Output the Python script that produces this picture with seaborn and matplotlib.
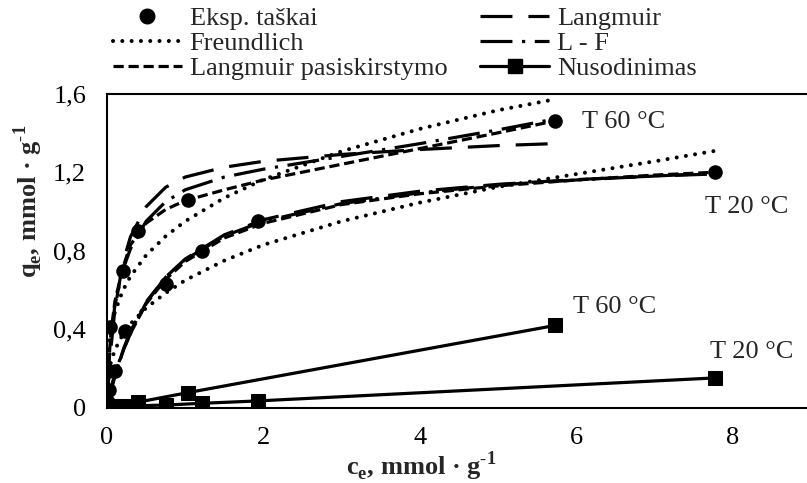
import numpy as np
import pandas as pd
import matplotlib
matplotlib.use("Agg")
import matplotlib.pyplot as plt
from matplotlib.lines import Line2D
import seaborn as sns

# ---------------- data ----------------
ce_exp_60 = [0.02, 0.03, 0.04, 0.21, 0.40, 1.03, 5.73]
qe_exp_60 = [0.09, 0.19, 0.41, 0.695, 0.90, 1.06, 1.46]
ce_exp_20 = [0.01, 0.10, 0.23, 0.75, 1.21, 1.93, 7.77]
qe_exp_20 = [0.03, 0.19, 0.39, 0.63, 0.80, 0.95, 1.20]

c_fit_60 = [0.01, 0.02, 0.05, 0.1, 0.2, 0.3, 0.5, 0.75, 1.0, 1.5, 2.0, 3.0, 4.0, 5.0, 5.72]
q_freund_60 = [0.25, 0.305, 0.40, 0.487, 0.596, 0.67, 0.777, 0.874, 0.95, 1.069, 1.162, 1.306, 1.42, 1.515, 1.57]
q_lang_60 = [0.074, 0.140, 0.304, 0.499, 0.734, 0.871, 1.024, 1.123, 1.175, 1.225, 1.255, 1.29, 1.315, 1.335, 1.345]
q_lf_60 = [0.12, 0.20, 0.36, 0.52, 0.70, 0.81, 0.95, 1.05, 1.11, 1.175, 1.215, 1.28, 1.345, 1.415, 1.47]
q_lp_60 = [0.13, 0.22, 0.38, 0.54, 0.71, 0.83, 0.94, 1.01, 1.055, 1.11, 1.16, 1.24, 1.32, 1.40, 1.46]

c_fit_20 = [0.01, 0.02, 0.05, 0.1, 0.2, 0.3, 0.5, 0.75, 1.0, 1.5, 2.0, 3.0, 4.0, 5.0, 6.0, 7.0, 7.8]
q_freund_20 = [0.135, 0.171, 0.233, 0.295, 0.373, 0.428, 0.509, 0.585, 0.65, 0.75, 0.83, 0.95, 1.045, 1.125, 1.19, 1.255, 1.31]
q_lang_20 = [0.018, 0.035, 0.085, 0.16, 0.284, 0.385, 0.535, 0.666, 0.758, 0.881, 0.958, 1.05, 1.103, 1.138, 1.162, 1.18, 1.191]
q_lf_20 = [0.03, 0.05, 0.10, 0.17, 0.29, 0.39, 0.54, 0.665, 0.755, 0.875, 0.95, 1.04, 1.095, 1.135, 1.16, 1.18, 1.195]
q_lp_20 = [0.025, 0.045, 0.095, 0.165, 0.285, 0.38, 0.53, 0.655, 0.745, 0.865, 0.94, 1.035, 1.09, 1.13, 1.16, 1.185, 1.20]

c_nus_60 = [0.02, 0.04, 0.21, 0.40, 1.03, 5.73]
q_nus_60 = [0.005, 0.01, 0.01, 0.03, 0.078, 0.42]
c_nus_20 = [0.01, 0.10, 0.23, 0.75, 1.22, 1.93, 7.77]
q_nus_20 = [0.0, 0.005, 0.01, 0.015, 0.024, 0.036, 0.153]

x_ticks = [0, 2, 4, 6, 8]
y_ticks = [0, 0.4, 0.8, 1.2, 1.6]
y_tick_labels = ["0", "0,4", "0,8", "1,2", "1,6"]

legend_labels = ["Eksp. taškai", "Freundlich", "Langmuir pasiskirstymo",
                 "Langmuir", "L - F", "Nusodinimas"]
annotations = [("T 60 °C", 6.07, 1.455), ("T 20 °C", 7.64, 1.022),
               ("T 60 °C", 5.96, 0.514), ("T 20 °C", 7.71, 0.285)]
x_label = "c$_\\mathregular{e}$, mmol · g$^\\mathregular{\\text{-}1}$"
y_label = "q$_\\mathregular{e}$, mmol · g$^\\mathregular{\\text{-}1}$"

# ---------------- styling ----------------
sns.set_style("white")
plt.rcParams["font.family"] = ["Liberation Serif", "DejaVu Serif"]
plt.rcParams["mathtext.fontset"] = "custom"
plt.rcParams["mathtext.rm"] = "Liberation Serif"
plt.rcParams["axes.unicode_minus"] = False
FS = 19

LW = 2.3
styles = {
    "Freundlich": dict(linestyle=(0, (0.01, 2.3)), dash_capstyle="round", lw=2.9),
    "Langmuir pasiskirstymo": dict(linestyle=(0, (3.2, 1.5)), dash_capstyle="butt", lw=LW),
    "Langmuir": dict(linestyle=(0, (10, 5)), dash_capstyle="butt", lw=LW),
    "L - F": dict(linestyle=(0, (10, 3, 1, 3)), dash_capstyle="butt", lw=LW),
}

fig = plt.figure(figsize=(8.07, 4.83), dpi=100)
ax = fig.add_axes([107 / 807, 1 - 408 / 483, 704 / 807, 314.5 / 483])

fits = [
    ("Freundlich", c_fit_60, q_freund_60), ("Freundlich", c_fit_20, q_freund_20),
    ("Langmuir pasiskirstymo", c_fit_60, q_lp_60), ("Langmuir pasiskirstymo", c_fit_20, q_lp_20),
    ("Langmuir", c_fit_60, q_lang_60), ("Langmuir", c_fit_20, q_lang_20),
    ("L - F", c_fit_60, q_lf_60), ("L - F", c_fit_20, q_lf_20),
]
for name, cs, qs in fits:
    df = pd.DataFrame({"c": cs, "q": qs})
    sns.lineplot(data=df, x="c", y="q", ax=ax, sort=False, estimator=None,
                 color="black", legend=False, **styles[name])

for cs, qs in [(c_nus_60, q_nus_60), (c_nus_20, q_nus_20)]:
    df = pd.DataFrame({"c": cs, "q": qs})
    sns.lineplot(data=df, x="c", y="q", ax=ax, sort=False, estimator=None,
                 color="black", lw=LW, marker="s", markersize=9.5,
                 markeredgecolor="black", legend=False, zorder=4)

exp = pd.DataFrame({"c": ce_exp_60 + ce_exp_20, "q": qe_exp_60 + qe_exp_20})
sns.scatterplot(data=exp, x="c", y="q", ax=ax, color="black", s=110,
                marker="o", edgecolor="black", linewidth=0, zorder=5, legend=False)

for txt, x, y in annotations:
    ax.text(x, y, txt, ha="left", va="center", fontsize=FS)

ax.set_xlim(0, 9)
ax.set_ylim(0, 1.6)
ax.set_xticks(x_ticks)
ax.set_xticklabels([str(t) for t in x_ticks])
ax.set_yticks(y_ticks)
ax.set_yticklabels(y_tick_labels)
ax.tick_params(axis="both", direction="in", length=5, width=1.3,
               labelsize=FS, color="black", labelcolor="black")
ax.tick_params(axis="x", pad=14)
ax.tick_params(axis="y", pad=15)
ax.set_xlabel("")
ax.set_ylabel("")
for side in ["left", "bottom", "top", "right"]:
    ax.spines[side].set_visible(True)
    ax.spines[side].set_color("black")
    ax.spines[side].set_linewidth(1.5)

fig.text(28 / 807, 1 - 201 / 483, y_label, rotation=90, ha="center", va="center",
         fontsize=FS, fontweight="bold")
fig.text(421 / 807, 1 - 475 / 483, x_label, ha="center", va="baseline",
         fontsize=FS, fontweight="bold")

handles = [
    Line2D([], [], color="black", marker="o", markersize=10.5, linestyle="none"),
    Line2D([], [], color="black", **styles["Freundlich"]),
    Line2D([], [], color="black", **styles["Langmuir pasiskirstymo"]),
    Line2D([], [], color="black", **styles["Langmuir"]),
    Line2D([], [], color="black", **styles["L - F"]),
    Line2D([], [], color="black", lw=LW, marker="s", markersize=9.5),
]
fig.legend(handles, legend_labels, loc="upper left",
           bbox_to_anchor=(113 / 807, 1 - 7 / 483), bbox_transform=fig.transFigure,
           ncol=2, frameon=False, fontsize=FS, borderpad=0, borderaxespad=0,
           handlelength=2.6, handletextpad=0.3, columnspacing=1.25,
           labelspacing=0.05, numpoints=1)

fig.savefig("out.png", dpi=100)
